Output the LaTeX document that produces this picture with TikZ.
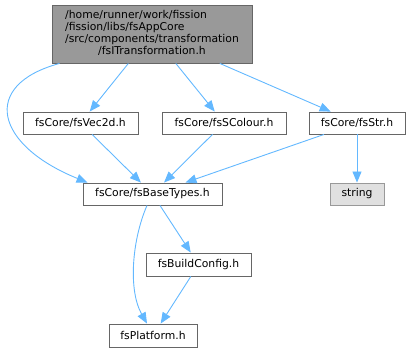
\documentclass[tikz,border=0pt]{standalone}
\usepackage{fontspec}
\setmainfont{DejaVu Sans}
\usepackage{tikz}
\usetikzlibrary{positioning,arrows.meta}
\definecolor{edgeblue}{HTML}{63B8FF}
\definecolor{boxline}{HTML}{666666}
\definecolor{rootfill}{HTML}{999999}
\definecolor{sysfill}{HTML}{E0E0E0}

\begin{document}
\begin{tikzpicture}[x=1pt,y=-1pt,font=\fontsize{10.8}{12}\selectfont,
  filebox/.style={draw=boxline,fill=white,line width=0.9pt,inner sep=0pt,minimum height=22pt},
  rootbox/.style={filebox,fill=rootfill,minimum width=200pt,minimum height=58pt},
  sysbox/.style={filebox,draw=rootfill,fill=sysfill},
  dep/.style={draw=edgeblue,line width=0.9pt,-{Triangle[length=11pt,width=9pt]}}]
\useasboundingbox (0,0) rectangle (410,352);
% files
\node[rootbox] (trans) at (152,34) {\begin{tabular}{@{}l@{}}/home/runner/work/fission\\/fission/libs/fsAppCore\\/src/components/transformation\\\multicolumn{1}{@{}c@{}}{/fsITransformation.h}\end{tabular}};
\node[filebox,minimum width=115pt] (vec) at (80.5,123) {fsCore/fsVec2d.h};
\node[filebox,minimum width=124pt] (colour) at (224,123) {fsCore/fsSColour.h};
\node[filebox,minimum width=96pt] (str) at (357,123) {fsCore/fsStr.h};
\node[filebox,minimum width=139pt] (base) at (152.5,194) {fsCore/fsBaseTypes.h};
\node[sysbox,minimum width=54pt] (string) at (357,194) {string};
\node[filebox,minimum width=105pt,minimum height=23pt] (build) at (198.5,264.5) {fsBuildConfig.h};
\node[filebox,minimum width=88pt,minimum height=23pt] (platform) at (153,335.5) {fsPlatform.h};
% includes
\draw[dep] ([xshift=8pt]trans.south west) .. controls (-20,85) and (-5,145) .. ([xshift=5pt]base.north west);
\draw[dep] (trans) -- (vec);
\draw[dep] (trans) -- (colour);
\draw[dep] (trans) -- (str);
\draw[dep] (vec) -- (base);
\draw[dep] (colour) -- (base);
\draw[dep] (str) -- (base);
\draw[dep] (str) -- (string);
\draw[dep] ([xshift=-5.5pt]base.south) .. controls (132,240) and (128,290) .. ([xshift=-6pt]platform.north);
\draw[dep] (base) -- (build);
\draw[dep] (build) -- (platform);
\end{tikzpicture}
\end{document}
